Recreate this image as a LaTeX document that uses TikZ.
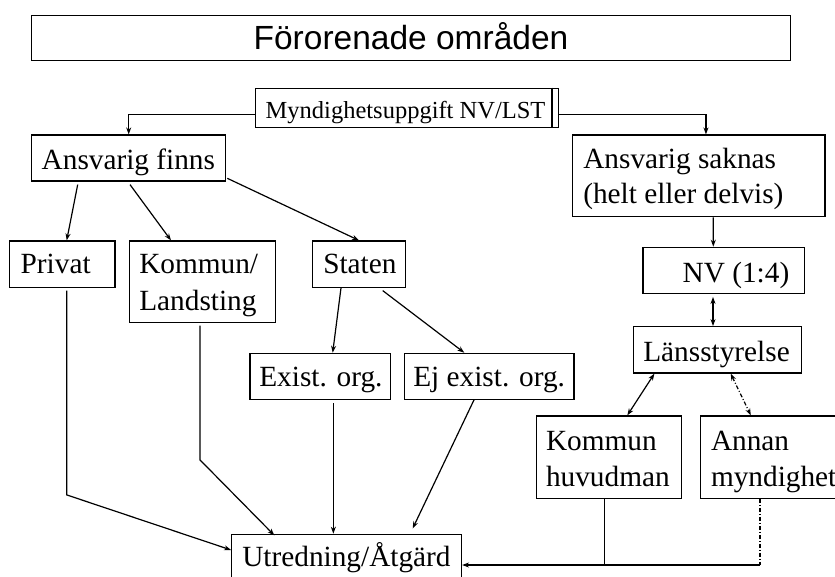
\documentclass[tikz,border=0pt]{standalone}
\usepackage{fontspec}
\setmainfont{Liberation Serif}
\newfontfamily\titlefont{Liberation Sans}
\usetikzlibrary{arrows.meta}
\newcommand\lbox[3]{\makebox[#1][l]{\hspace*{#2}#3}}
\newcommand\twoline[3]{\vbox{\baselineskip=#1\hbox{#2}\hbox{#3}}}
\tikzset{
  bx/.style={draw, line width=1.2pt, inner sep=0pt, text depth=0pt,
    font=\fontsize{29.3}{35}\selectfont},
  conn/.style={line width=1.2pt},
  arr/.style={-{Stealth[length=7pt,width=5pt]}},
  darr/.style={{Stealth[length=7pt,width=5pt]}-{Stealth[length=7pt,width=5pt]}},
  dashdot/.style={dash pattern=on 4pt off 2pt on 1pt off 2pt}
}
\begin{document}
\begin{tikzpicture}[x=1pt,y=-1pt]
\useasboundingbox (0,0) rectangle (835,576);
\clip (0,0) rectangle (835,576);
% title
\node[bx, line width=1.3pt, font=\titlefont\fontsize{33.5}{40}\selectfont,
  minimum width=758.6pt, minimum height=44.8pt, text height=22.4pt] (title) at (411,38.1) {Förorenade områden};
% top
\node[bx, font=\fontsize{24.5}{29}\selectfont, minimum width=303pt, minimum height=39.4pt,
  text height=20.6pt] (mynd) at (407.2,108) {\lbox{303pt}{10pt}{Myndighetsuppgift NV/LST}};
\draw[line width=1.2pt] ([xshift=-7.4pt]mynd.north east) -- ([xshift=-7.4pt]mynd.south east);
\node[bx, minimum width=194pt, minimum height=46pt, text height=22pt] (finns) at (128.7,158)
  {\lbox{194pt}{10pt}{Ansvarig finns}};
\node[bx, minimum width=252.7pt, minimum height=81.7pt, text height=54.9pt] (saknas) at (698.65,175.85)
  {\lbox{252.7pt}{11pt}{\twoline{35pt}{Ansvarig saknas}{(helt eller delvis)}}};
% second row
\node[bx, minimum width=105.7pt, minimum height=46.3pt, text height=18.3pt] (privat) at (62.15,264.15)
  {\lbox{105.7pt}{11.4pt}{Privat}};
\node[bx, minimum width=146pt, minimum height=81.3pt, text height=58.1pt] (kommun) at (202.3,281.65)
  {\lbox{146pt}{10pt}{\twoline{37.4pt}{Kommun/}{Landsting}}};
\node[bx, minimum width=93.4pt, minimum height=46.3pt, text height=18.3pt] (staten) at (359,264.15)
  {\lbox{93.4pt}{11pt}{Staten}};
\node[bx, minimum width=140.7pt, minimum height=46pt, text height=20pt] (exist) at (320.35,376.3)
  {\lbox{140.7pt}{9.3pt}{Exist. org.}};
\node[bx, minimum width=169.5pt, minimum height=46pt, text height=20pt] (ejexist) at (489.25,376.3)
  {\lbox{169.5pt}{8.8pt}{Ej exist. org.}};
% right column
\node[bx, minimum width=161.7pt, minimum height=46pt, text height=24pt] (nv) at (723.85,270.3)
  {\lbox{161.7pt}{39.7pt}{NV (1:4)}};
\node[bx, minimum width=168pt, minimum height=46.3pt, text height=22.3pt] (lans) at (717.3,349.85)
  {\lbox{168pt}{10pt}{Länsstyrelse}};
\node[bx, minimum width=144.9pt, minimum height=82.3pt, text height=57.7pt] (khuv) at (609.15,457.15)
  {\lbox{144.9pt}{9.3pt}{\twoline{36pt}{Kommun}{huvudman}}};
\node[bx, minimum width=144.8pt, minimum height=82.3pt, text height=57.7pt] (annan) at (772.6,457.15)
  {\lbox{144.8pt}{10.8pt}{\twoline{36pt}{Annan}{myndighet}}};
% bottom
\node[bx, minimum width=229.8pt, minimum height=46pt, text height=18.8pt] (utred) at (346.6,557.3)
  {\lbox{229.8pt}{10.6pt}{Utredning/Åtgärd}};
% connectors
\draw[conn,arr] ([yshift=-6.7pt]mynd.west) -| (finns.north);
\draw[conn,arr] ([yshift=-6.7pt]mynd.east) -| ([xshift=7.3pt]saknas.north);
\draw[conn,arr] ([xshift=-51pt,yshift=-3pt]finns.south) -- ([xshift=4.55pt]privat.north);
\draw[conn,arr] ([xshift=1.3pt,yshift=-3pt]finns.south) -- ([xshift=-31.3pt]kommun.north);
\draw[conn,arr] ([xshift=1pt,yshift=3.3pt]finns.south east) -- (staten.north);
\draw[conn,arr] ([xshift=-18pt]staten.south) -- ([xshift=12.35pt]exist.north);
\draw[conn,arr] ([xshift=23.7pt,yshift=-2.7pt]staten.south) -- ([xshift=-24.95pt]ejexist.north);
\draw[conn,arr] ([xshift=14.65pt]saknas.south) -- ([xshift=-10.55pt]nv.north);
\draw[conn,darr] ([xshift=-10.85pt,yshift=-3pt]nv.south) -- ([xshift=-4.3pt]lans.north);
\draw[conn,darr] ([xshift=21.7pt]lans.south west) -- ([xshift=18.15pt]khuv.north);
\draw[conn,darr,dashdot] ([xshift=13.4pt]lans.south) -- ([xshift=-21.8pt]annan.north);
\draw[conn,arr] ([xshift=4.55pt,yshift=-2.7pt]privat.south) -- ++(0,204.3) -- ([yshift=7.3pt]utred.west);
\draw[conn,arr] ([xshift=-2.3pt,yshift=-2.7pt]kommun.south) -- ++(0,134.3) -- ([xshift=43.3pt,yshift=-1.7pt]utred.north west);
\draw[conn,arr] ([xshift=13pt,yshift=-3.4pt]exist.south) -- ([xshift=13pt]exist.south |- utred.north);
\draw[conn,arr] ([xshift=-15.25pt]ejexist.south) -- ([xshift=66.1pt,yshift=5.3pt]utred.north);
\coordinate (j) at (760,565);
\draw[conn,arr] ([xshift=-4.75pt]khuv.south) |- ([yshift=-7.7pt]utred.east);
\draw[conn,dashdot] ([xshift=-12.6pt]annan.south) -- (j);
\draw[conn] (j) -- ([xshift=-4.75pt]khuv.south |- j);
\end{tikzpicture}
\end{document}
